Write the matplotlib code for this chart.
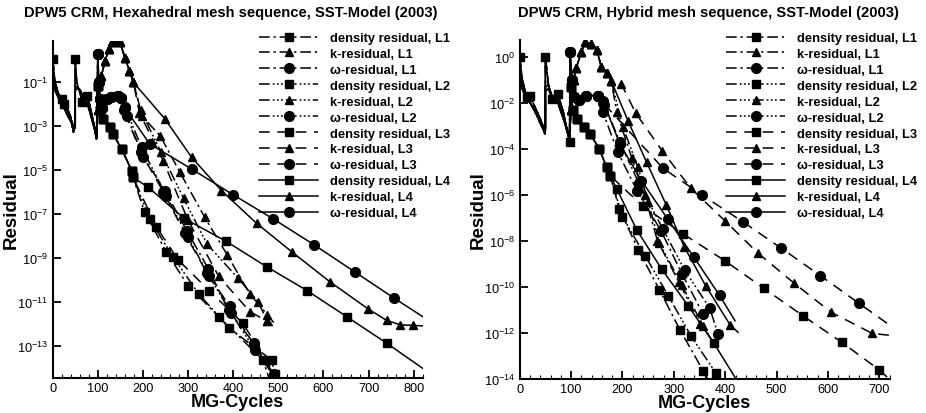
import numpy as np
import matplotlib
matplotlib.use("Agg")
import matplotlib.pyplot as plt
from matplotlib.lines import Line2D
from matplotlib.ticker import FixedLocator, MultipleLocator, NullLocator, LogFormatterSciNotation

plt.rcParams['font.family'] = ['Liberation Sans', 'DejaVu Sans']

# all residual values are stored as log10(residual)
# ---------------- left panel: hexahedral mesh sequence ----------------
hex_start_x = [0, 5, 12, 20, 25, 32, 40, 46, 50, 50, 53, 60, 66, 72, 77, 85, 92, 97]
hex_start_rho = [0.03, -1.0, -1.5, -1.8, -2.0, -2.2, -2.6, -3.3, -3.0, 0.03, -1.0, -1.5, -1.9, -1.8, -1.65, -2.3, -3.0, -3.6]
hex_start_k = [-0.7, -1.4, -1.7, -2.0, -2.2, -2.5, -2.8, -3.2, -2.9, -1.2, -1.25, -1.4, -1.7, -1.9, -2.0, -2.5, -3.0, -3.5]
hex_start_w = [-0.9, -1.3, -1.6, -1.9, -2.1, -2.3, -2.7, -3.0, -3.1, -1.4, -1.3, -1.35, -1.6, -1.8, -2.0, -2.6, -3.1, -3.6]
hex_start_marks = [(0, 0.03), (20, -1.8), (25, -2.0), (50, 0.03), (66, -1.9), (77, -1.65)]

hex_rho_head = [(100, -1.2), (104, -2.3), (112, -2.7), (127, -3.07), (134, -3.38), (153, -4.06), (175, -5.05), (178, -5.35)]
hex_rho_L1 = [(204, -6.94), (252, -8.75), (300, -10.27), (369, -11.7), (466, -13.65), (480, -14.5)]
hex_rho_L2 = [(215, -7.24), (267, -8.98), (324, -10.65), (391, -12.2), (485, -13.65), (495, -14.5)]
hex_rho_L3 = [(230, -7.6), (278, -9.1), (347, -10.5), (421, -11.97), (492, -14.3), (495, -14.5)]
hex_rho_L4 = [(212, -5.8), (291, -7.21), (384, -8.25), (474, -9.41), (564, -10.5), (653, -11.7), (741, -12.9), (820, -14.03)]

hex_k_head = [(100, -2.3), (108, -0.73), (116, -0.05), (125, 0.5), (131, 0.8), (140, 0.87), (149, 0.8), (160, 0.1), (170, -0.5), (179, -1.03)]
hex_k_L1 = [(197, -2.55), (238, -3.45), (282, -5.12), (337, -7.17), (387, -8.88), (437, -10.65), (476, -11.6), (490, -11.95)]
hex_k_L2 = [(195, -2.3), (240, -4.2), (290, -6.3), (342, -8.38), (411, -9.94), (455, -11.0), (476, -11.9), (490, -12.0)]
hex_k_L3 = [(192, -2.4), (245, -4.6), (300, -7.3), (368, -9.85), (437, -11.45), (476, -11.9), (488, -12.1)]
hex_k_L4 = [(249, -2.7), (308, -4.44), (374, -5.95), (452, -7.44), (531, -8.75), (614, -10.09), (699, -11.33), (740, -11.85), (770, -12.05), (799, -12.08), (820, -12.1)]

hex_w_head = [(100, 0.26), (102, -1.0), (104, -1.8), (110, -2.2), (120, -1.8), (130, -1.7), (145, -1.65), (152, -1.75)]
hex_w_L1 = [(164, -2.55), (201, -4.44), (249, -5.95), (297, -7.77), (345, -9.5), (390, -11.4), (446, -12.9), (490, -14.3), (495, -14.5)]
hex_w_L2 = [(160, -2.16), (197, -3.98), (252, -6.2), (300, -8.07), (347, -9.85), (395, -11.5), (448, -13.2), (495, -14.5)]
hex_w_L3 = [(158, -2.3), (195, -4.2), (245, -6.0), (293, -7.9), (342, -9.7), (392, -11.2), (446, -12.95), (485, -14.2)]
hex_w_L4 = [(160, -2.2), (215, -3.83), (308, -4.97), (400, -6.14), (489, -7.24), (579, -8.41), (669, -9.64), (756, -10.83), (820, -11.68)]

# ---------------- right panel: hybrid mesh sequence ----------------
hyb_start_x = [0, 5, 14, 20, 30, 40, 49, 50, 50, 56, 63, 74, 85, 97]
hyb_start_rho = [0.0, -1.0, -1.77, -1.7, -2.2, -2.7, -3.36, -3.2, 0.0, -1.23, -1.84, -1.62, -2.4, -3.72]
hyb_start_k = [-0.6, -1.4, -1.9, -2.0, -2.4, -2.9, -3.3, -3.0, -1.3, -1.25, -1.7, -1.9, -2.6, -3.5]
hyb_start_w = [-0.8, -1.3, -1.8, -2.0, -2.3, -2.7, -3.2, -3.1, -1.5, -1.4, -1.8, -2.0, -2.7, -3.6]
hyb_start_marks = [(0, 0.0), (14, -1.77), (20, -1.7), (50, 0.0), (63, -1.84), (74, -1.62), (97, -3.72)]

hyb_rho_head = [(100, -1.3), (103, -2.3), (112, -2.7), (125, -3.07), (137, -3.36), (155, -4.0), (169, -4.8), (176, -5.17)]
hyb_rho_L1 = [(194, -6.62), (231, -8.4), (272, -10.13), (312, -11.87), (357, -13.64), (366, -14.0)]
hyb_rho_L2 = [(200, -6.95), (244, -8.64), (289, -10.38), (333, -12.12), (382, -13.75), (390, -14.0)]
hyb_rho_L3 = [(240, -6.5), (318, -7.7), (399, -8.86), (475, -10.06), (551, -11.25), (627, -12.41), (700, -13.61), (719, -14.0)]
hyb_rho_L4 = [(189, -5.75), (228, -7.53), (276, -9.22), (328, -10.82), (378, -12.45), (421, -14.0)]

hyb_k_head = [(100, -2.3), (105, -1.0), (110, -0.5), (120, 0.2), (128, 0.63), (139, 0.55), (150, 0.3), (159, -0.46), (170, -0.71), (178, -1.04)]
hyb_k_L1 = [(189, -2.42), (218, -4.4), (243, -6.0), (268, -7.99), (310, -9.8), (351, -11.6), (372, -12.2)]
hyb_k_L2 = [(201, -3.07), (230, -4.8), (250, -6.3), (272, -8.1), (315, -9.9), (357, -11.7), (376, -12.4)]
hyb_k_L3 = [(198, -1.2), (226, -2.46), (277, -4.08), (333, -5.72), (399, -7.12), (464, -8.54), (534, -9.84), (606, -11.1), (686, -12.02), (719, -12.1)]
hyb_k_L4 = [(211, -2.8), (247, -4.59), (285, -6.43), (320, -8.25), (362, -9.95), (410, -11.67), (425, -11.97)]

hyb_w_head = [(98, 0.19), (102, -1.0), (105, -1.76), (115, -1.9), (130, -1.7), (152, -1.69)]
hyb_w_L1 = [(162, -2.42), (191, -4.15), (229, -5.85), (275, -7.56), (316, -9.44), (357, -11.18), (365, -11.5)]
hyb_w_L2 = [(162, -1.91), (195, -3.72), (232, -5.5), (279, -7.5), (321, -9.27), (370, -10.93), (386, -12.05), (395, -11.9)]
hyb_w_L3 = [(162, -2.0), (279, -4.85), (355, -6.01), (434, -7.17), (509, -8.32), (585, -9.51), (660, -10.71), (720, -11.66)]
hyb_w_L4 = [(165, -2.1), (195, -3.79), (237, -5.39), (288, -7.05), (339, -8.71), (389, -10.37), (419, -11.47)]

level_names = ['L1', 'L2', 'L3', 'L4']
quantity_names = ['density residual', 'k-residual', '\u03c9-residual']

styles = {
    'L1': (0, (7, 2.5, 1.5, 2.5)),
    'L2': (0, (7, 2, 1.2, 1.5, 1.2, 1.5, 1.2, 2)),
    'L3': (0, (7, 5)),
    'L4': '-',
}
markers = {'density residual': ('s', 5.3), 'k-residual': ('^', 5.5), '\u03c9-residual': ('o', 7)}


def draw_series(ax, sx, sy, head, tail, ls, mk, ms):
    pts = list(zip(sx, sy)) + head + tail
    x = np.array([p[0] for p in pts])
    y = 10.0 ** np.array([p[1] for p in pts])
    ax.plot(x, y, linestyle=ls, color='k', lw=1.1)
    mp = head + tail[:-1]
    ax.plot([p[0] for p in mp], 10.0 ** np.array([p[1] for p in mp]),
            linestyle='none', marker=mk, ms=ms, color='k')


def style_axes(ax, xmax, ymin, ymax, yexp):
    ax.set_yscale('log')
    ax.set_xlim(0, xmax)
    ax.set_ylim(10.0 ** ymin, 10.0 ** ymax)
    for s in ['top', 'right']:
        ax.spines[s].set_visible(False)
    for s in ['left', 'bottom']:
        ax.spines[s].set_linewidth(1.5)
    ax.xaxis.set_major_locator(MultipleLocator(100))
    ax.xaxis.set_minor_locator(MultipleLocator(20))
    ax.yaxis.set_major_locator(FixedLocator(10.0 ** np.array(yexp)))
    ax.yaxis.set_major_formatter(LogFormatterSciNotation())
    ax.yaxis.set_minor_locator(NullLocator())
    ax.tick_params(axis='both', which='major', direction='in', length=6, width=1.3, labelsize=9.2, pad=3)
    ax.tick_params(axis='x', which='minor', direction='in', length=3, width=0.8)
    ax.set_xlabel('MG-Cycles', fontsize=13, fontweight='bold', labelpad=-1)
    ax.set_ylabel('Residual', fontsize=13.5, fontweight='bold')
    ax.yaxis.set_label_coords(-0.088, 0.5)


fig = plt.figure(figsize=(9.26, 4.14), dpi=100)
ax1 = fig.add_axes([0.0569, 0.0845, 0.3996, 0.814])
ax2 = fig.add_axes([0.5612, 0.0821, 0.3996, 0.8188])

panels = [
    (ax1, hex_start_x, [hex_start_rho, hex_start_k, hex_start_w], hex_start_marks,
     [hex_rho_head, hex_k_head, hex_w_head],
     [[hex_rho_L1, hex_rho_L2, hex_rho_L3, hex_rho_L4],
      [hex_k_L1, hex_k_L2, hex_k_L3, hex_k_L4],
      [hex_w_L1, hex_w_L2, hex_w_L3, hex_w_L4]]),
    (ax2, hyb_start_x, [hyb_start_rho, hyb_start_k, hyb_start_w], hyb_start_marks,
     [hyb_rho_head, hyb_k_head, hyb_w_head],
     [[hyb_rho_L1, hyb_rho_L2, hyb_rho_L3, hyb_rho_L4],
      [hyb_k_L1, hyb_k_L2, hyb_k_L3, hyb_k_L4],
      [hyb_w_L1, hyb_w_L2, hyb_w_L3, hyb_w_L4]]),
]

for ax, sx, starts, smarks, heads, tails in panels:
    for qi, q in enumerate(quantity_names):
        mk, ms = markers[q]
        for li, lev in enumerate(level_names):
            draw_series(ax, sx, starts[qi], heads[qi], tails[qi][li], styles[lev], mk, ms)
    ax.plot([p[0] for p in smarks], 10.0 ** np.array([p[1] for p in smarks]),
            linestyle='none', marker='s', ms=5.3, color='k')

style_axes(ax1, 820, -14.47, 0.85, list(range(-13, 0, 2)))
style_axes(ax2, 720, -14.0, 0.72, list(range(-14, 1, 2)))

fig.text(231 / 926, 1 - 13 / 414, 'DPW5 CRM, Hexahedral mesh sequence, SST-Model (2003)',
         fontsize=10.6, fontweight='bold', ha='center', va='center')
fig.text(708 / 926, 1 - 13 / 414, 'DPW5 CRM, Hybrid mesh sequence, SST-Model (2003)',
         fontsize=10.6, fontweight='bold', ha='center', va='center')

handles, labels = [], []
for lev in level_names:
    for q in quantity_names:
        mk, ms = markers[q]
        handles.append(Line2D([], [], color='k', lw=1.1, linestyle=styles[lev], marker=mk, ms=ms))
        labels.append(f'{q}, {lev}')

for ax, x0 in [(ax1, 259), (ax2, 726)]:
    ax.legend(handles, labels, loc='upper left', bbox_to_anchor=(x0 / 926, 1 - 33 / 414),
              bbox_transform=fig.transFigure, frameon=False, borderpad=0, borderaxespad=0,
              handlelength=4.6, handletextpad=0.9, labelspacing=0.3,
              prop={'weight': 'bold', 'size': 9.3})

fig.savefig('out.png', dpi=100)
